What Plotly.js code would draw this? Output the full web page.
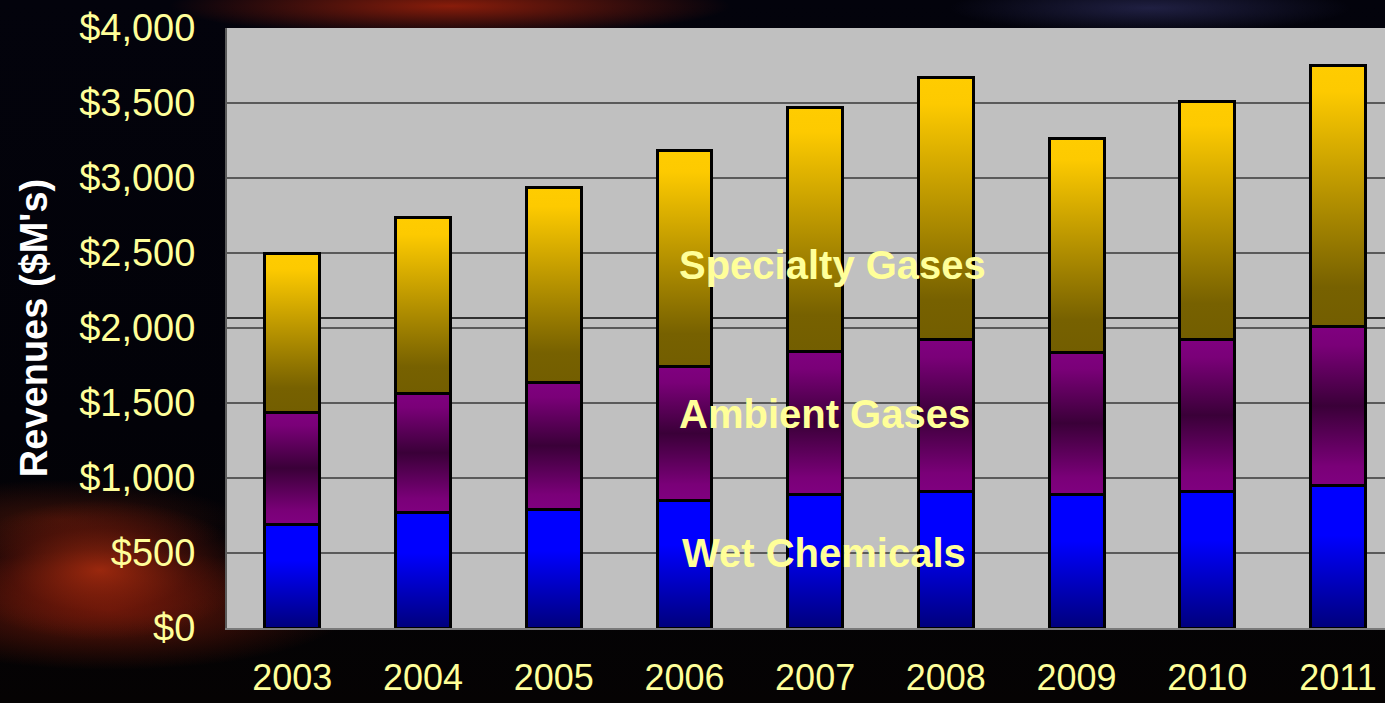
<!DOCTYPE html>
<html>
<head>
<meta charset="utf-8">
<script src="https://cdn.plot.ly/plotly-3.0.1.min.js"></script>
<style>
html,body{margin:0;padding:0;width:1385px;height:703px;overflow:hidden;}
body{
  background:
    radial-gradient(ellipse 150px 70px at 100px 570px, rgba(175,45,15,0.85), rgba(120,25,10,0.45) 60%, rgba(0,0,0,0) 100%),
    radial-gradient(ellipse 240px 60px at 110px 610px, rgba(140,30,10,0.7), rgba(0,0,0,0) 100%),
    radial-gradient(ellipse 180px 40px at 60px 520px, rgba(110,30,10,0.5), rgba(0,0,0,0) 100%),
    radial-gradient(ellipse 280px 30px at 450px 6px, rgba(170,35,10,0.8), rgba(0,0,0,0) 100%),
    radial-gradient(ellipse 200px 25px at 1150px 8px, rgba(60,60,120,0.5), rgba(0,0,0,0) 100%),
    linear-gradient(180deg, #03030c 0%, #020208 60%, #050303 100%);
}
#chart{width:1385px;height:703px;}
</style>
</head>
<body>
<div id="chart"></div>
<script>
var years = ['2003','2004','2005','2006','2007','2008','2009','2010','2011'];
var wetChemicals = [690, 770, 790, 850, 890, 910, 890, 910, 950];
var ambientGases = [750, 795, 850, 895, 955, 1015, 950, 1015, 1060];
var specialtyGases = [1060, 1175, 1300, 1440, 1625, 1745, 1425, 1585, 1740];
var yTickVals = [0, 500, 1000, 1500, 2000, 2500, 3000, 3500, 4000];
var yTickText = ['$0','$500','$1,000','$1,500','$2,000','$2,500','$3,000','$3,500','$4,000'];
var seriesNames = ['Wet Chemicals', 'Ambient Gases', 'Specialty Gases'];

var FONT = '"Liberation Sans", Arial, sans-serif';
var barLine = {color: '#000000', width: 3};
var barWidth = 0.42;

var traces = [
  {type:'bar', name: seriesNames[0], x: years, y: wetChemicals, width: barWidth,
   marker:{color:'#0000ff', line: barLine}, hoverinfo:'x+y+name'},
  {type:'bar', name: seriesNames[1], x: years, y: ambientGases, width: barWidth,
   marker:{color:'#800080', line: barLine}, hoverinfo:'x+y+name'},
  {type:'bar', name: seriesNames[2], x: years, y: specialtyGases, width: barWidth,
   marker:{color:'#ffcc00', line: barLine}, hoverinfo:'x+y+name'}
];

var labelFont = {family: FONT, size: 40, color: '#ffff99', weight: 'bold'};

var layout = {
  width: 1385, height: 703,
  paper_bgcolor: 'rgba(0,0,0,0)',
  plot_bgcolor: '#c0c0c0',
  margin: {l: 227, r: 0, t: 28, b: 75},
  barmode: 'stack',
  showlegend: false,
  font: {family: FONT},
  xaxis: {
    type: 'category',
    range: [-0.5, 8.36],
    showgrid: false,
    showline: true, linecolor: '#7a7a7a', linewidth: 2,
    ticks: 'outside', ticklen: 17, tickcolor: 'rgba(0,0,0,0)',
    tickfont: {family: FONT, size: 36, color: '#ffff99'},
    fixedrange: true
  },
  yaxis: {
    range: [0, 4000],
    tickvals: yTickVals, ticktext: yTickText,
    showgrid: true, gridcolor: '#5a5a5a', gridwidth: 2,
    zeroline: false,
    showline: true, linecolor: '#5a5a5a', linewidth: 2,
    ticks: 'outside', ticklen: 22, tickcolor: 'rgba(0,0,0,0)',
    tickfont: {family: FONT, size: 38, color: '#ffff99'},
    title: {text: "Revenues ($M's)", font: {family: FONT, size: 38, color: '#ffffff', weight: 'bold'}, standoff: 20},
    fixedrange: true
  },
  shapes: [
    {type:'line', xref:'paper', x0:0, x1:1, yref:'y', y0:2067, y1:2067,
     line:{color:'#000000', width:1.5}, layer:'below'}
  ],
  annotations: [
    {x: 4.13, y: 2420, xref:'x', yref:'y', text: seriesNames[2], showarrow:false, font: labelFont},
    {x: 4.07, y: 1427, xref:'x', yref:'y', text: seriesNames[1], showarrow:false, font: labelFont},
    {x: 4.07, y: 500, xref:'x', yref:'y', text: seriesNames[0], showarrow:false, font: labelFont}
  ]
};

var gradients = [
  {id:'gradWet', stops:[[0,'#0000ff'],[0.35,'#0000ff'],[1,'#00007c']]},
  {id:'gradAmb', stops:[[0,'#800080'],[0.12,'#7a0078'],[0.5,'#3a0038'],[0.88,'#7a0078'],[1,'#800080']]},
  {id:'gradSpec', stops:[[0,'#ffcc00'],[0.1,'#fdca00'],[0.85,'#776100'],[1,'#735e00']]}
];

var gd = document.getElementById('chart');
Plotly.newPlot(gd, traces, layout, {displayModeBar:false, staticPlot:true}).then(function(){
  var svg = gd.querySelector('svg.main-svg');
  var NS = 'http://www.w3.org/2000/svg';
  var defs = svg.querySelector('defs');
  if (!defs) { defs = document.createElementNS(NS,'defs'); svg.insertBefore(defs, svg.firstChild); }
  gradients.forEach(function(g){
    var lg = document.createElementNS(NS,'linearGradient');
    lg.setAttribute('id', g.id);
    lg.setAttribute('x1','0'); lg.setAttribute('y1','0');
    lg.setAttribute('x2','0'); lg.setAttribute('y2','1');
    g.stops.forEach(function(s){
      var st = document.createElementNS(NS,'stop');
      st.setAttribute('offset', s[0]);
      st.setAttribute('stop-color', s[1]);
      lg.appendChild(st);
    });
    defs.appendChild(lg);
  });
  var traceGroups = gd.querySelectorAll('.barlayer .trace');
  traceGroups.forEach(function(tg, i){
    tg.querySelectorAll('.point path').forEach(function(p){
      p.style.fill = 'url(#' + gradients[i].id + ')';
    });
  });
});
</script>
</body>
</html>
